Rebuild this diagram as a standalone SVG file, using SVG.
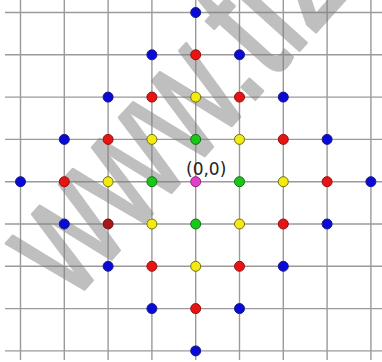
<svg xmlns="http://www.w3.org/2000/svg" width="382" height="362" viewBox="0 0 382 362">
<style>
.g{stroke:#9a9a9a;stroke-width:1.4;fill:none}
.d{stroke-width:1}
.b{fill:#0a0ad8;stroke:#1a1a80}
.r{fill:#e81414;stroke:#901010}
.dr{fill:#a81818;stroke:#701010}
.y{fill:#f2ea10;stroke:#707010}
.gr{fill:#18c818;stroke:#107010}
.m{fill:#e040c8;stroke:#902080}
.lbl{font-family:"DejaVu Sans",sans-serif;font-size:17px;fill:#222}
.wm{font-family:"Liberation Sans",Arial,sans-serif;font-size:168px;fill:#808080;stroke:#808080;stroke-width:3;stroke-linejoin:round}
</style>
<rect width="382" height="362" fill="#fff"/>
<g id="grid">
<path class="g" d="M5 12.5H382M5 54.8H382M5 97.1H382M5 139.4H382M5 181.7H382M5 224H382M5 266.3H382M5 308.6H382M5 350.9H382"/>
<path class="g" d="M20.5 0V360M64.3 0V360M108.1 0V360M151.9 0V360M195.7 0V360M239.5 0V360M283.3 0V360M327.1 0V360M370.9 0V360"/>
</g>
<g id="watermark" opacity="0.5">
<text class="wm" transform="translate(72,303) rotate(-48) scale(0.74,1)">www.tiz</text>
</g>
<g id="dots" class="d">
<circle class="b" cx="195.7" cy="12.5" r="5"/>
<circle class="b" cx="151.9" cy="54.8" r="5"/>
<circle class="r" cx="195.7" cy="54.8" r="5"/>
<circle class="b" cx="239.5" cy="54.8" r="5"/>
<circle class="b" cx="108.1" cy="97.1" r="5"/>
<circle class="r" cx="151.9" cy="97.1" r="5"/>
<circle class="y" cx="195.7" cy="97.1" r="5"/>
<circle class="r" cx="239.5" cy="97.1" r="5"/>
<circle class="b" cx="283.3" cy="97.1" r="5"/>
<circle class="b" cx="64.3" cy="139.4" r="5"/>
<circle class="r" cx="108.1" cy="139.4" r="5"/>
<circle class="y" cx="151.9" cy="139.4" r="5"/>
<circle class="gr" cx="195.7" cy="139.4" r="5"/>
<circle class="y" cx="239.5" cy="139.4" r="5"/>
<circle class="r" cx="283.3" cy="139.4" r="5"/>
<circle class="b" cx="327.1" cy="139.4" r="5"/>
<circle class="b" cx="20.5" cy="181.7" r="5"/>
<circle class="r" cx="64.3" cy="181.7" r="5"/>
<circle class="y" cx="108.1" cy="181.7" r="5"/>
<circle class="gr" cx="151.9" cy="181.7" r="5"/>
<circle id="origin" class="m" cx="195.7" cy="181.7" r="5"/>
<circle class="gr" cx="239.5" cy="181.7" r="5"/>
<circle class="y" cx="283.3" cy="181.7" r="5"/>
<circle class="r" cx="327.1" cy="181.7" r="5"/>
<circle class="b" cx="370.9" cy="181.7" r="5"/>
<circle class="b" cx="64.3" cy="224" r="5"/>
<circle class="dr" cx="108.1" cy="224" r="5"/>
<circle class="y" cx="151.9" cy="224" r="5"/>
<circle class="gr" cx="195.7" cy="224" r="5"/>
<circle class="y" cx="239.5" cy="224" r="5"/>
<circle class="r" cx="283.3" cy="224" r="5"/>
<circle class="b" cx="327.1" cy="224" r="5"/>
<circle class="b" cx="108.1" cy="266.3" r="5"/>
<circle class="r" cx="151.9" cy="266.3" r="5"/>
<circle class="y" cx="195.7" cy="266.3" r="5"/>
<circle class="r" cx="239.5" cy="266.3" r="5"/>
<circle class="b" cx="283.3" cy="266.3" r="5"/>
<circle class="b" cx="151.9" cy="308.6" r="5"/>
<circle class="r" cx="195.7" cy="308.6" r="5"/>
<circle class="b" cx="239.5" cy="308.6" r="5"/>
<circle class="b" cx="195.7" cy="350.9" r="5"/>
</g>
<g id="label">
<text class="lbl" x="186" y="175">(0,0)</text>
</g>
</svg>
